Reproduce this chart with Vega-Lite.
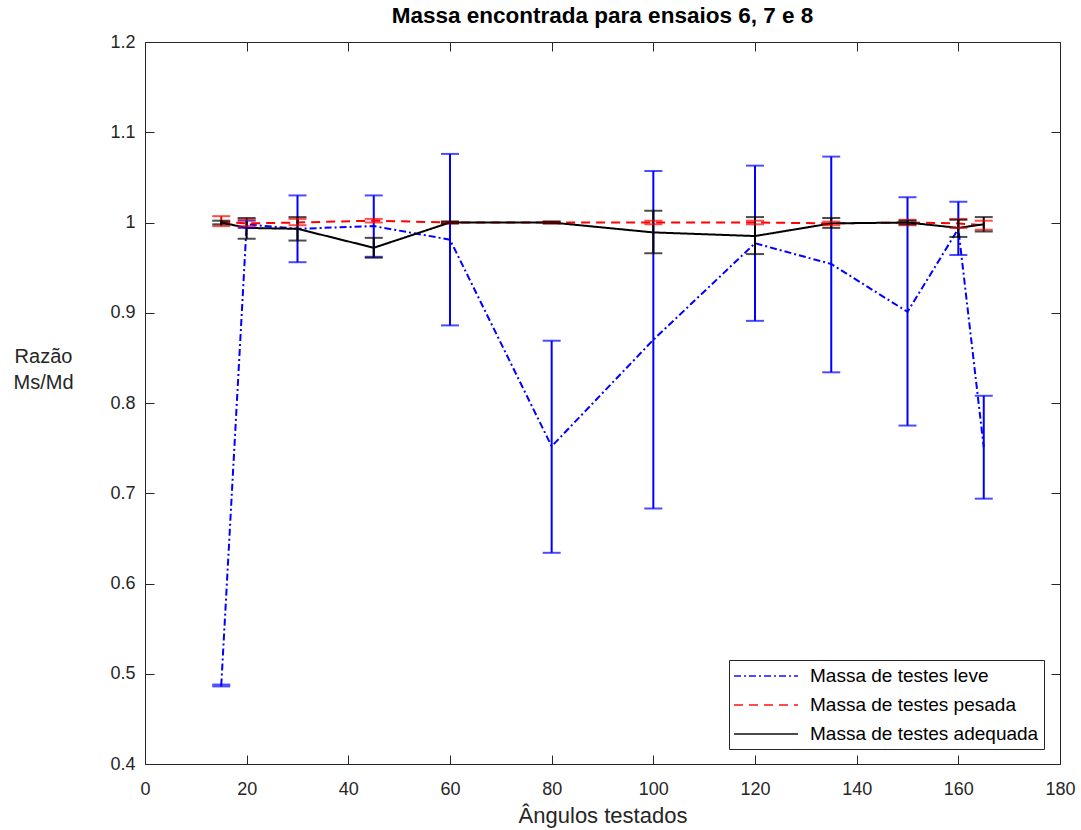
{
  "$schema": "https://vega.github.io/schema/vega-lite/v6.json",
  "width": 915,
  "height": 722,
  "autosize": "none",
  "padding": {"left": 145, "top": 42, "right": 21, "bottom": 66},
  "background": "white",
  "title": {
    "text": "Massa encontrada para ensaios 6, 7 e 8",
    "font": "Liberation Sans",
    "fontSize": 22.5,
    "fontWeight": "bold",
    "color": "#000000",
    "anchor": "middle",
    "offset": 6
  },
  "config": {
    "view": {"stroke": "#262626", "strokeWidth": 1},
    "axis": {
      "grid": false,
      "domain": false,
      "tickColor": "#262626",
      "tickWidth": 1,
      "tickSize": -9,
      "labelFont": "Liberation Sans",
      "labelFontSize": 18,
      "labelColor": "#262626",
      "titleFont": "Liberation Sans",
      "titleColor": "#262626",
      "titleFontWeight": "normal"
    }
  },
  "data": {
    "values": [
      {"angle": 15, "serie": "Massa de testes leve", "value": 0.487, "lo": 0.486, "hi": 0.488},
      {"angle": 20, "serie": "Massa de testes leve", "value": 0.998, "lo": 0.994, "hi": 1.002},
      {"angle": 30, "serie": "Massa de testes leve", "value": 0.993, "lo": 0.956, "hi": 1.030},
      {"angle": 45, "serie": "Massa de testes leve", "value": 0.996, "lo": 0.962, "hi": 1.030},
      {"angle": 60, "serie": "Massa de testes leve", "value": 0.981, "lo": 0.886, "hi": 1.076},
      {"angle": 80, "serie": "Massa de testes leve", "value": 0.752, "lo": 0.634, "hi": 0.869},
      {"angle": 100, "serie": "Massa de testes leve", "value": 0.870, "lo": 0.683, "hi": 1.057},
      {"angle": 120, "serie": "Massa de testes leve", "value": 0.977, "lo": 0.891, "hi": 1.063},
      {"angle": 135, "serie": "Massa de testes leve", "value": 0.954, "lo": 0.834, "hi": 1.073},
      {"angle": 150, "serie": "Massa de testes leve", "value": 0.901, "lo": 0.775, "hi": 1.028},
      {"angle": 160, "serie": "Massa de testes leve", "value": 0.993, "lo": 0.964, "hi": 1.023},
      {"angle": 165, "serie": "Massa de testes leve", "value": 0.751, "lo": 0.694, "hi": 0.808},
      {"angle": 15, "serie": "Massa de testes pesada", "value": 1.001, "lo": 0.996, "hi": 1.007},
      {"angle": 20, "serie": "Massa de testes pesada", "value": 0.999, "lo": 0.996, "hi": 1.003},
      {"angle": 30, "serie": "Massa de testes pesada", "value": 1.000, "lo": 0.997, "hi": 1.004},
      {"angle": 45, "serie": "Massa de testes pesada", "value": 1.002, "lo": 1.000, "hi": 1.004},
      {"angle": 60, "serie": "Massa de testes pesada", "value": 1.000, "lo": 0.999, "hi": 1.001},
      {"angle": 80, "serie": "Massa de testes pesada", "value": 1.000, "lo": 0.999, "hi": 1.001},
      {"angle": 100, "serie": "Massa de testes pesada", "value": 1.000, "lo": 0.998, "hi": 1.002},
      {"angle": 120, "serie": "Massa de testes pesada", "value": 1.000, "lo": 0.998, "hi": 1.002},
      {"angle": 135, "serie": "Massa de testes pesada", "value": 0.999, "lo": 0.997, "hi": 1.001},
      {"angle": 150, "serie": "Massa de testes pesada", "value": 1.000, "lo": 0.997, "hi": 1.003},
      {"angle": 160, "serie": "Massa de testes pesada", "value": 0.999, "lo": 0.994, "hi": 1.004},
      {"angle": 165, "serie": "Massa de testes pesada", "value": 0.997, "lo": 0.992, "hi": 1.002},
      {"angle": 15, "serie": "Massa de testes adequada", "value": 1.000, "lo": 0.998, "hi": 1.002},
      {"angle": 20, "serie": "Massa de testes adequada", "value": 0.994, "lo": 0.982, "hi": 1.005},
      {"angle": 30, "serie": "Massa de testes adequada", "value": 0.993, "lo": 0.980, "hi": 1.006},
      {"angle": 45, "serie": "Massa de testes adequada", "value": 0.972, "lo": 0.961, "hi": 0.983},
      {"angle": 60, "serie": "Massa de testes adequada", "value": 1.000, "lo": 0.999, "hi": 1.001},
      {"angle": 80, "serie": "Massa de testes adequada", "value": 1.000, "lo": 0.999, "hi": 1.001},
      {"angle": 100, "serie": "Massa de testes adequada", "value": 0.989, "lo": 0.966, "hi": 1.013},
      {"angle": 120, "serie": "Massa de testes adequada", "value": 0.985, "lo": 0.965, "hi": 1.006},
      {"angle": 135, "serie": "Massa de testes adequada", "value": 0.999, "lo": 0.994, "hi": 1.005},
      {"angle": 150, "serie": "Massa de testes adequada", "value": 1.000, "lo": 0.998, "hi": 1.002},
      {"angle": 160, "serie": "Massa de testes adequada", "value": 0.994, "lo": 0.984, "hi": 1.003},
      {"angle": 165, "serie": "Massa de testes adequada", "value": 0.998, "lo": 0.990, "hi": 1.006}
    ]
  },
  "layer": [
    {
      "encoding": {
        "x": {
          "field": "angle",
          "type": "quantitative",
          "scale": {"domain": [0, 180], "nice": false, "zero": false},
          "axis": {
            "title": "Ângulos testados",
            "titleFontSize": 22,
            "titlePadding": 7,
            "values": [0, 20, 40, 60, 80, 100, 120, 140, 160, 180],
            "labelPadding": 25,
            "labelFlush": false
          }
        },
        "color": {
          "field": "serie",
          "type": "nominal",
          "scale": {
            "domain": ["Massa de testes leve", "Massa de testes pesada", "Massa de testes adequada"],
            "range": ["#0000FF", "#FF0000", "#000000"]
          },
          "legend": {
            "title": null,
            "orient": "none",
            "legendX": 584,
            "legendY": 618,
            "symbolType": "M-3.2,0L3.2,0",
            "symbolSize": 400,
            "symbolOffset": 21,
            "symbolStrokeWidth": 2,
            "labelFont": "Liberation Sans",
            "labelFontSize": 19,
            "labelColor": "#000000",
            "labelOffset": 33,
            "labelLimit": 400,
            "rowPadding": 8,
            "padding": 5,
            "strokeColor": "#262626",
            "fillColor": "#FFFFFF",
            "cornerRadius": 0
          }
        },
        "strokeDash": {
          "field": "serie",
          "type": "nominal",
          "scale": {
            "domain": ["Massa de testes leve", "Massa de testes pesada", "Massa de testes adequada"],
            "range": [[7, 3, 2, 3], [9, 6], [1, 0]]
          },
          "legend": {
            "title": null,
            "orient": "none",
            "legendX": 584,
            "legendY": 618,
            "symbolType": "M-3.2,0L3.2,0",
            "symbolSize": 400,
            "symbolOffset": 21,
            "symbolStrokeWidth": 2,
            "labelFont": "Liberation Sans",
            "labelFontSize": 19,
            "labelColor": "#000000",
            "labelOffset": 33,
            "labelLimit": 400,
            "rowPadding": 8,
            "padding": 5,
            "strokeColor": "#262626",
            "fillColor": "#FFFFFF",
            "cornerRadius": 0
          }
        }
      },
      "layer": [
        {
          "mark": {"type": "line", "strokeWidth": 2},
          "encoding": {
            "y": {
              "field": "value",
              "type": "quantitative",
              "scale": {"domain": [0.4, 1.2], "nice": false, "zero": false},
              "axis": {
                "title": ["Razão", "Ms/Md"],
                "titleFontSize": 20,
                "titleAngle": 0,
                "titleAlign": "center",
                "titleBaseline": "alphabetic",
                "titleX": -102,
                "titleY": 320,
                "titleLineHeight": 26,
                "values": [0.4, 0.5, 0.6, 0.7, 0.8, 0.9, 1.0, 1.1, 1.2],
                "format": "~g",
                "labelPadding": 19,
                "labelFlush": false
              }
            }
          }
        },
        {
          "mark": {"type": "rule", "strokeWidth": 2},
          "encoding": {
            "y": {
              "field": "lo",
              "type": "quantitative",
              "axis": {
                "title": ["Razão", "Ms/Md"],
                "titleFontSize": 20,
                "titleAngle": 0,
                "titleAlign": "center",
                "titleBaseline": "alphabetic",
                "titleX": -102,
                "titleY": 320,
                "titleLineHeight": 26,
                "values": [0.4, 0.5, 0.6, 0.7, 0.8, 0.9, 1.0, 1.1, 1.2],
                "format": "~g",
                "labelPadding": 19,
                "labelFlush": false
              }
            },
            "y2": {"field": "hi"},
            "strokeDash": {"value": [1, 0]}
          }
        },
        {
          "mark": {"type": "tick", "orient": "horizontal", "size": 18, "thickness": 2},
          "encoding": {
            "y": {
              "field": "lo",
              "type": "quantitative",
              "axis": {
                "title": ["Razão", "Ms/Md"],
                "titleFontSize": 20,
                "titleAngle": 0,
                "titleAlign": "center",
                "titleBaseline": "alphabetic",
                "titleX": -102,
                "titleY": 320,
                "titleLineHeight": 26,
                "values": [0.4, 0.5, 0.6, 0.7, 0.8, 0.9, 1.0, 1.1, 1.2],
                "format": "~g",
                "labelPadding": 19,
                "labelFlush": false
              }
            },
            "strokeDash": {"value": [1, 0]}
          }
        },
        {
          "mark": {"type": "tick", "orient": "horizontal", "size": 18, "thickness": 2},
          "encoding": {
            "y": {
              "field": "hi",
              "type": "quantitative",
              "axis": {
                "title": ["Razão", "Ms/Md"],
                "titleFontSize": 20,
                "titleAngle": 0,
                "titleAlign": "center",
                "titleBaseline": "alphabetic",
                "titleX": -102,
                "titleY": 320,
                "titleLineHeight": 26,
                "values": [0.4, 0.5, 0.6, 0.7, 0.8, 0.9, 1.0, 1.1, 1.2],
                "format": "~g",
                "labelPadding": 19,
                "labelFlush": false
              }
            },
            "strokeDash": {"value": [1, 0]}
          }
        }
      ]
    },
    {
      "mark": {"type": "point", "opacity": 0},
      "encoding": {
        "x": {
          "field": "angle",
          "type": "quantitative",
          "axis": {"orient": "top", "labels": false, "title": null, "values": [0, 20, 40, 60, 80, 100, 120, 140, 160, 180]}
        },
        "y": {
          "field": "value",
          "type": "quantitative",
          "axis": {"orient": "right", "labels": false, "title": null, "values": [0.4, 0.5, 0.6, 0.7, 0.8, 0.9, 1.0, 1.1, 1.2]}
        }
      }
    }
  ],
  "resolve": {"axis": {"x": "independent", "y": "independent"}}
}
